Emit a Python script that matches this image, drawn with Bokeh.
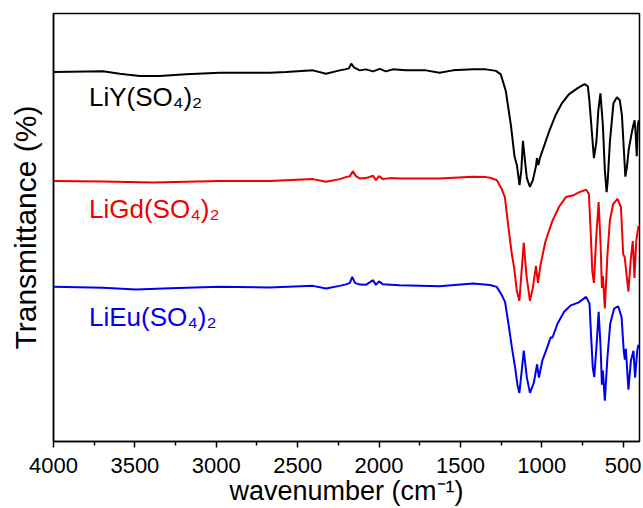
from bokeh.plotting import figure
from bokeh.models import Range1d, FixedTicker, Label
from bokeh.embed import file_html
from bokeh.resources import INLINE

# ---- data (wavenumber cm^-1, transmittance in arbitrary offset units) ----
wn_liy = [4000, 3696, 3593, 3470, 3348, 3186, 2979, 2672, 2572, 2406, 2326, 2242, 2210, 2185, 2171, 2154,
          2119, 2081, 2037, 1995, 1958, 1915, 1835, 1712, 1628, 1546, 1423, 1344, 1301, 1282, 1252, 1221,
          1190, 1168, 1153, 1137, 1126, 1116, 1104, 1092, 1073, 1055, 1036, 1030, 1021, 1012, 957, 916,
          877, 834, 780, 738, 717, 708, 696, 680, 665, 653, 640, 625, 613, 602, 595, 582, 560, 539, 521,
          508, 496, 487, 478, 466, 447, 438, 430, 423, 417, 410, 404]
t_liy = [370.3, 371, 368.7, 366.3, 366.3, 368, 369.7, 369.7, 370.3, 372, 368.7, 372, 373, 374, 378.7, 375,
         372, 373, 371, 373.5, 371, 373, 372, 372, 369.7, 372, 373, 373, 372, 371.5, 368, 351,
         317, 286, 277, 257, 272, 301.3, 282, 264, 255.2, 262, 276, 284, 277, 284, 310, 327,
         339, 348, 354.2, 358.3, 356, 342, 317, 284, 300, 332, 349, 317, 272, 250, 262, 300, 339, 345, 342,
         327, 292, 265.5, 274, 293, 310, 317, 322, 307, 286, 317, 322]

wn_ligd = [4000, 3696, 3389, 2979, 2672, 2406, 2326, 2242, 2203, 2179, 2161, 2142, 2119, 2081, 2037, 2019,
           2000, 1976, 1933, 1874, 1628, 1423, 1344, 1319, 1277, 1247, 1227, 1205, 1184, 1170, 1153, 1138,
           1126, 1111, 1095, 1073, 1055, 1036, 1024, 1008, 977, 935, 895, 852, 810, 769, 728, 711, 701,
           690, 680, 666, 651, 639, 631, 625, 613, 597, 582, 562, 535, 514, 500, 491, 484, 468, 453, 441,
           431, 420, 406]
t_ligd = [261, 260.5, 259.7, 261, 261, 263, 260.3, 263, 265, 266, 271, 266, 263.7, 264, 266.3, 262,
          266, 263, 264, 263.7, 263.7, 265.3, 265, 264.4, 262, 253.3, 245, 214.4, 187.4, 174, 150.3, 141,
          167, 199.2, 167, 141, 154, 176, 159, 177.3, 201, 221.2, 235, 245, 246.5, 250, 252.3, 248.2, 214.4,
          170.5, 159, 204.3, 240, 197.5, 154, 166, 133.4, 187.4, 221.2, 238, 243.1, 234.7, 187.4, 185, 174,
          150.3, 184, 201, 164, 201, 216]

wn_lieu = [4000, 3696, 3493, 3284, 2979, 2672, 2406, 2326, 2242, 2203, 2179, 2165, 2148, 2119, 2081, 2037,
           2019, 2000, 1976, 1874, 1628, 1423, 1319, 1277, 1247, 1226, 1205, 1184, 1164, 1150, 1138, 1126,
           1111, 1092, 1073, 1049, 1029, 1018, 997, 967, 946, 935, 904, 863, 822, 776, 728, 707, 697, 687,
           678, 663, 651, 639, 631, 625, 613, 597, 580, 556, 531, 510, 497, 490, 484, 468, 453, 437, 427,
           414, 406]
t_lieu = [155, 154, 152.3, 153.5, 155, 154.3, 156, 153.3, 156, 157.5, 159, 165, 159, 157.3, 157, 161.7,
          157, 160.5, 157.5, 156.7, 155.7, 158.3, 156.8, 155, 147, 140, 118, 94.3, 74, 57, 48.7, 67,
          91, 64, 48.7, 59, 77.4, 64, 81, 94.3, 104.4, 104, 118, 130, 136.5, 139.2, 145, 138.2, 104.4, 74,
          64.6, 98, 130, 94.3, 57, 71, 41, 84.2, 118, 133.2, 135.5, 124.7, 91, 82, 93, 52, 81, 91, 64,
          91, 97]

series_names = ["LiY(SO₄)₂", "LiGd(SO₄)₂", "LiEu(SO₄)₂"]
series_colors = ["#000000", "#f00000", "#0000f0"]
label_x = [3782, 3782, 3782]
label_y = [345, 233, 125]

x_ticks = [4000, 3500, 3000, 2500, 2000, 1500, 1000, 500]
x_minor = [3750, 3250, 2750, 2250, 1750, 1250, 750]

FONT = "Liberation Sans"

p = figure(width=643, height=508, output_backend="svg", toolbar_location=None,
           x_range=Range1d(4000, 400), y_range=Range1d(0, 429),
           min_border_left=53, min_border_right=4, min_border_top=13, min_border_bottom=66)
p.grid.visible = False
p.background_fill_color = "white"
p.border_fill_color = "white"
p.outline_line_color = "black"
p.outline_line_width = 1.5

for wn, t, c in zip([wn_liy, wn_ligd, wn_lieu], [t_liy, t_ligd, t_lieu], series_colors):
    p.line(wn, t, line_color=c, line_width=2)

for name, c, lx, ly in zip(series_names, series_colors, label_x, label_y):
    p.add_layout(Label(x=lx, y=ly, text=name, text_color=c, text_font=FONT,
                       text_font_size="26px", text_baseline="middle", text_align="left"))

xa = p.xaxis[0]
xa.ticker = FixedTicker(ticks=x_ticks, minor_ticks=x_minor)
xa.axis_label = "wavenumber (cm⁻¹)"
xa.axis_label_text_font = FONT
xa.axis_label_text_font_style = "normal"
xa.axis_label_text_font_size = "27px"
xa.axis_label_text_color = "black"
xa.axis_label_standoff = 0
xa.major_label_text_font = FONT
xa.major_label_text_font_size = "22px"
xa.major_label_text_color = "black"
xa.major_label_standoff = 10
xa.major_tick_in = 0
xa.major_tick_out = 6
xa.minor_tick_in = 0
xa.minor_tick_out = 4
xa.axis_line_color = "black"
xa.major_tick_line_color = "black"
xa.minor_tick_line_color = "black"
xa.axis_line_width = 1.5
xa.major_tick_line_width = 1.5
xa.minor_tick_line_width = 1.5

ya = p.yaxis[0]
ya.ticker = FixedTicker(ticks=[])
ya.axis_label = "Transmittance (%)"
ya.axis_label_text_font = FONT
ya.axis_label_text_font_style = "normal"
ya.axis_label_text_font_size = "30px"
ya.axis_label_text_color = "black"
ya.axis_label_standoff = 12
ya.major_tick_out = 0
ya.minor_tick_out = 0
ya.major_tick_in = 0
ya.minor_tick_in = 0
ya.axis_line_color = "black"
ya.axis_line_width = 1.5

open("out.html", "w").write(file_html(p, INLINE))
